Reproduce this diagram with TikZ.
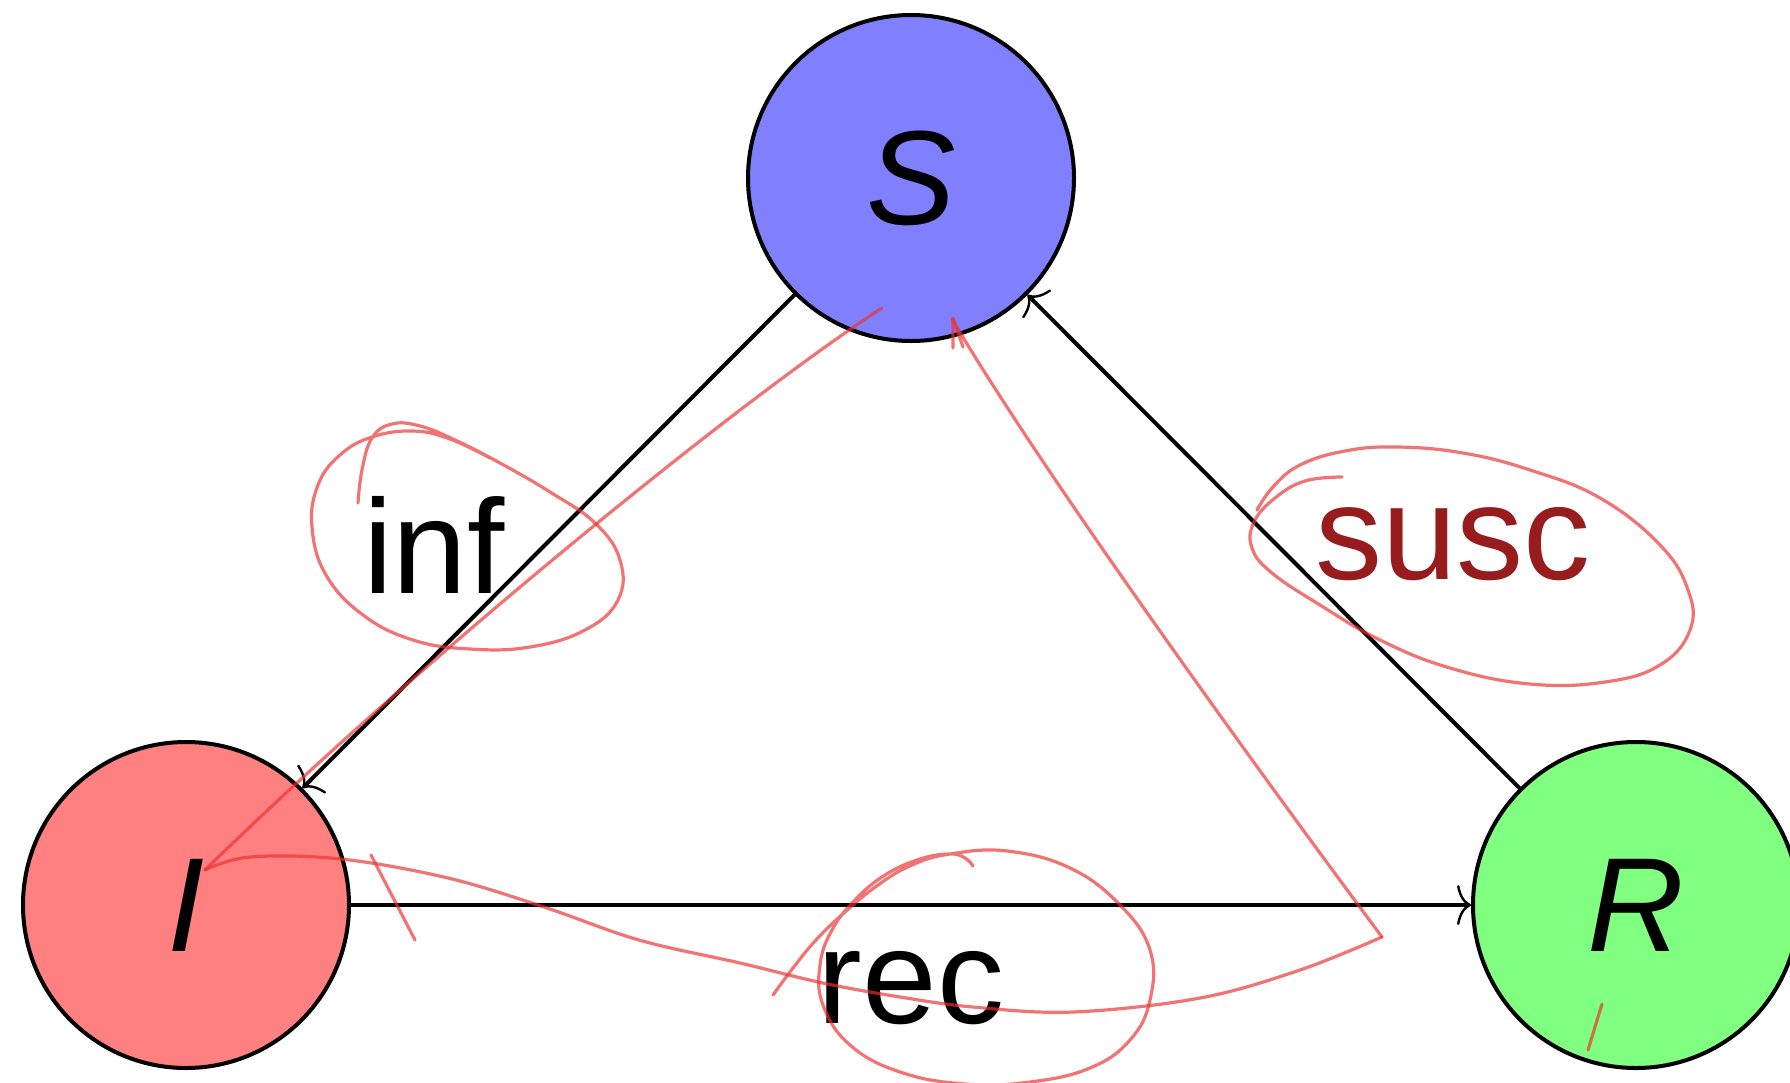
\documentclass[tikz,border=0pt]{standalone}
\usepackage{fontspec}
\setmainfont{Liberation Sans}
\usetikzlibrary{arrows.meta}
\definecolor{ann}{RGB}{235,50,50}
\definecolor{susccol}{RGB}{150,28,30}
\begin{document}
\begin{tikzpicture}[x=1pt,y=-1pt,
  state/.style={circle, draw, line width=4pt, minimum size=326pt, inner sep=0pt,
    font=\fontsize{134pt}{160pt}\selectfont\itshape},
  lbl/.style={anchor=base, inner sep=0pt, font=\fontsize{134pt}{160pt}\selectfont},
  flow/.style={line width=4pt, -{Computer Modern Rightarrow[length=14pt,width=40pt,line width=2.4pt]}},
  annot/.style={draw=ann, draw opacity=0.68, line width=3.2pt, line cap=round, line join=round}]
\useasboundingbox (0,0) rectangle (1790,1082);
\fill[white] (0,0) rectangle (1790,1082);
\clip (0,0) rectangle (1790,1082);

% states
\node[state, fill=blue!50]  (S) at (911,178) {S};
\node[state, fill=red!50]   (I) at (186,905) {I};
\node[state, fill=green!50] (R) at (1636,905) {R};

% transitions
\draw[flow] (S) -- (I);
\draw[flow] (I) -- (R);
\draw[flow] (R) -- (S);

% labels
\node[lbl] (linf) at (434,593) {inf};
\node[lbl, text=susccol] (lsusc) at (1453,579) {susc};
\node[lbl] (lrec) at (911,1023) {rec};

% hand-drawn annotations
\draw[annot] plot[smooth, tension=0.7] coordinates {(358,503) (362,470) (372,438) (392,424) (420,426) (455,440) (500,463) (550,492) (595,523) (620,560) (618,600) (585,630) (530,647) (470,649) (413,640) (363,615) (326,575) (312,527) (318,485) (340,455) (372,437) (413,431) (450,439) (490,458)};

\draw[annot] plot[smooth, tension=0.7] coordinates {(1342,477) (1305,481) (1275,498) (1254,522) (1252,548) (1272,573) (1320,605) (1380,640) (1450,668) (1530,684) (1605,682) (1660,665) (1690,630) (1688,590) (1660,545) (1600,498) (1530,470) (1463,453) (1397,447) (1345,451) (1300,465) (1273,487) (1257,510)};

\draw[annot] plot[smooth, tension=0.7] coordinates {(773,995) (793,968) (816,940) (845,912) (878,885) (912,865) (950,854) (1007,851) (1070,868) (1120,905) (1150,950) (1150,1000) (1130,1040) (1090,1068) (1030,1082) (965,1084) (900,1072) (850,1045) (823,1005) (820,965) (832,930) (855,900) (885,875) (920,859) (950,854) (965,858) (973,866)};

\draw[annot] (882,308) .. controls (740,400) and (420,660) .. (205,870);
\draw[annot] plot[smooth, tension=0.6] coordinates {(205,870) (250,857) (341,859) (448,878) (544,907) (639,940) (740,963) (823,983) (900,997) (973,1007) (1073,1012) (1200,998) (1300,970) (1382,937)};
\draw[annot] (1382,937) .. controls (1280,800) and (1050,485) .. (952,319);
\draw[annot] (953,348) -- (953,318) -- (963,347);

\draw[annot] (371,855) -- (415,940);
\draw[annot] (1602,1004) -- (1588,1050);
\end{tikzpicture}
\end{document}
